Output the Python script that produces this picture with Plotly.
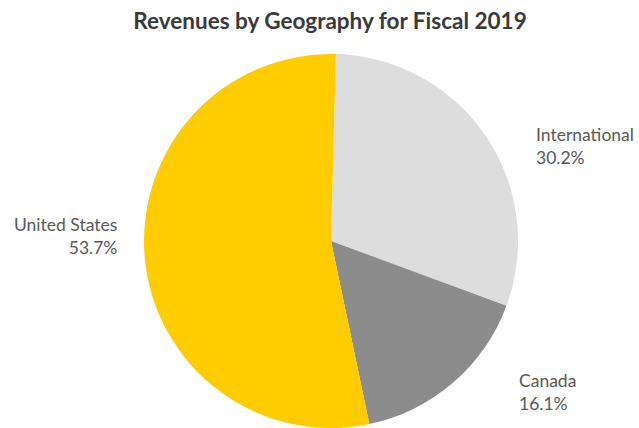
import plotly.graph_objects as go

labels = ["International", "Canada", "United States"]
values = [30.2, 16.1, 53.7]
colors = ["#DDDDDD", "#8C8C8C", "#FFCC00"]
title_text = "Revenues by Geography for Fiscal 2019"

W, H = 639, 428
cx, cy, r = 331, 241, 187  # pixel layout of the pie

fig = go.Figure(go.Pie(
    labels=labels, values=values, sort=False, direction="clockwise", rotation=1.5,
    marker=dict(colors=colors, line=dict(width=0)),
    textinfo="none", hoverinfo="label+percent", showlegend=False,
    domain=dict(x=[(cx - r) / W, (cx + r) / W], y=[(H - cy - r) / H, (H - cy + r) / H]),
))

# label placements (pixels): x, y-center, anchor
label_pos = {
    "International": (534, 146, "left"),
    "Canada": (517, 392, "left"),
    "United States": (119, 236, "right"),
}
for lab, val in zip(labels, values):
    x, y, anc = label_pos[lab]
    fig.add_annotation(
        x=x / W, y=1 - y / H, xref="paper", yref="paper", xanchor=anc, yanchor="middle",
        align=anc, showarrow=False, text=f"{lab}<br>{val:.1f}%",
        font=dict(family="Lato", size=17.5, color="#595959"),
    )

fig.update_layout(
    width=W, height=H, margin=dict(l=0, r=0, t=0, b=0),
    paper_bgcolor="white", plot_bgcolor="white",
    title=dict(text=f"<b>{title_text}</b>", x=330 / W, xanchor="center", y=1 - 21 / H, yanchor="middle",
               font=dict(family="Lato", size=22.5, color="#3A3A3A")),
)

fig.write_html("out.html", config={"displayModeBar": False},
               post_script="document.body.style.margin='0';")
